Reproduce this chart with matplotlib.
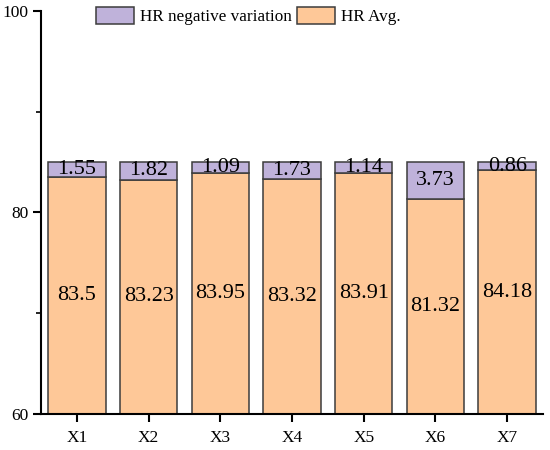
import matplotlib.pyplot as plt
import numpy as np

categories = ["X1", "X2", "X3", "X4", "X5", "X6", "X7"]
hr_avg = [83.5, 83.23, 83.95, 83.32, 83.91, 81.32, 84.18]
hr_neg_var = [1.55, 1.82, 1.09, 1.73, 1.14, 3.73, 0.86]

plt.rcParams['font.family'] = ['Liberation Serif', 'DejaVu Serif']

orange = '#FEC898'
purple = '#BFB2DA'
edge = '#3c3c3c'

fig = plt.figure(figsize=(5.5, 4.5), dpi=100)
ax = fig.add_axes([41 / 550, 1 - 414 / 450, 502 / 550, 403 / 450])

x = np.arange(len(categories))
base = 60
avg_heights = [v - base for v in hr_avg]
b1 = ax.bar(x, avg_heights, bottom=base, width=0.8, color=orange,
            edgecolor=edge, linewidth=1.1, label="HR Avg.")
b2 = ax.bar(x, hr_neg_var, bottom=hr_avg, width=0.8, color=purple,
            edgecolor=edge, linewidth=1.1, label="HR negative variation")

# value labels centred in each segment
for i in range(len(categories)):
    ax.text(x[i], (base + hr_avg[i]) / 2, f"{hr_avg[i]:g}", ha='center',
            va='center', fontsize=16)
    ax.text(x[i], hr_avg[i] + hr_neg_var[i] / 2, f"{hr_neg_var[i]:g}",
            ha='center', va='center', fontsize=16)

ax.set_xlim(-0.5, 6.5)
ax.set_ylim(60, 100)
ax.set_yticks([60, 80, 100])
ax.set_yticks([70, 90], minor=True)
ax.set_xticks(x)
ax.set_xticklabels(categories)
ax.tick_params(axis='both', which='major', direction='out', length=5.5,
               width=1.5, labelsize=12.5)
ax.tick_params(axis='y', which='minor', direction='out', length=3.6, width=1.2)
ax.tick_params(axis='x', pad=6)

for side in ['top', 'right']:
    ax.spines[side].set_visible(False)
for side in ['left', 'bottom']:
    ax.spines[side].set_linewidth(1.5)

fig.legend(handles=[b2, b1], labels=["HR negative variation", "HR Avg."],
           loc='upper left', bbox_to_anchor=(96 / 550, 1 - 7 / 450),
           ncol=2, frameon=False, fontsize=12.3, borderpad=0,
           borderaxespad=0, handlelength=2.2, handleheight=1.15,
           handletextpad=0.35, columnspacing=0.35)

fig.savefig("out.png", dpi=100)
